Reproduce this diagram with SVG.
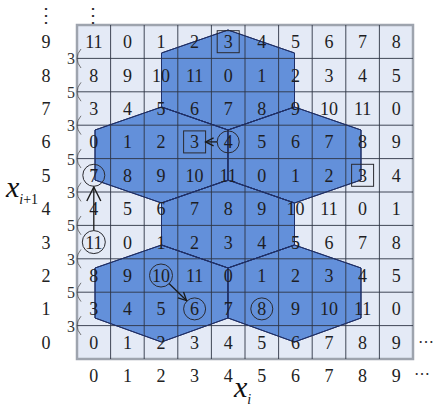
<svg xmlns="http://www.w3.org/2000/svg" width="440" height="410" viewBox="0 0 440 410">
<style>
text{font-family:"Liberation Serif","Times New Roman","DejaVu Serif",serif}
.num{font-size:18px;fill:#1e1e24;text-anchor:middle}
.lab{font-size:18px;fill:#222;text-anchor:middle}
.step{font-size:16px;fill:#333;text-anchor:middle}
.ax{font-style:italic;fill:#111}
.hex{fill:#6390da;stroke:#1f2f66;stroke-width:1}
.grid{stroke:#2e3444;stroke-width:0.9;fill:none}
.br{fill:none;stroke:#555;stroke-width:0.8}
.mk{fill:none;stroke:#2a2a30;stroke-width:1}
.dot{fill:#333}
.arr{stroke:#1a1a1a;stroke-width:1.3;fill:none}
</style>
<defs>
<marker id="headS" markerUnits="userSpaceOnUse" markerWidth="12" markerHeight="12" refX="9" refY="5" orient="auto">
<path d="M1,1 L9,5 L1,9" fill="none" stroke="#1a1a1a" stroke-width="1.3"/>
</marker>
<marker id="headL" markerUnits="userSpaceOnUse" markerWidth="18" markerHeight="18" refX="15" refY="8" orient="auto">
<path d="M1,1 L15,8 L1,15" fill="none" stroke="#1a1a1a" stroke-width="1.4"/>
</marker>
</defs>
<rect width="440" height="410" fill="#fff"/>
<g id="board">
<rect x="77" y="25" width="336" height="334" fill="#e4eaf6" stroke="#9ea4ae" stroke-width="2.5"/>
</g>
<g id="hexagons">
<polygon id="hexA" class="hex" points="228,30 294.5,53 294.5,107 228,130 161.5,107 161.5,53"/>
<polygon id="hexBL" class="hex" points="161.5,107 228,130 228,180 161.5,203 95,180 95,130"/>
<polygon id="hexBR" class="hex" points="294.5,107 361,130 361,180 294.5,203 228,180 228,130"/>
<polygon id="hexC" class="hex" points="228,180 294.5,203 294.5,245 228,268 161.5,245 161.5,203"/>
<polygon id="hexDL" class="hex" points="161.5,245 228,268 228,318 161.5,342 95,318 95,268"/>
<polygon id="hexDR" class="hex" points="294.5,245 361,268 361,318 294.5,342 228,318 228,268"/>
</g>
<g id="gridlines" class="grid">
<path d="M110.6,25V359M144.2,25V359M177.8,25V359M211.4,25V359M245,25V359M278.6,25V359M312.2,25V359M345.8,25V359M379.4,25V359"/>
<path d="M77,58.4H413M77,91.8H413M77,125.2H413M77,158.6H413M77,192H413M77,225.4H413M77,258.8H413M77,292.2H413M77,325.6H413"/>
</g>
<g id="hexedges" fill="none" stroke="#1f2f66" stroke-width="1">
<polygon points="228,30 294.5,53 294.5,107 228,130 161.5,107 161.5,53"/>
<polygon points="161.5,107 228,130 228,180 161.5,203 95,180 95,130"/>
<polygon points="294.5,107 361,130 361,180 294.5,203 228,180 228,130"/>
<polygon points="228,180 294.5,203 294.5,245 228,268 161.5,245 161.5,203"/>
<polygon points="161.5,245 228,268 228,318 161.5,342 95,318 95,268"/>
<polygon points="294.5,245 361,268 361,318 294.5,342 228,318 228,268"/>
</g>
<g id="cells" class="num">
<text y="48.2"><tspan x="93.8">11</tspan><tspan x="127.4">0</tspan><tspan x="161">1</tspan><tspan x="194.6">2</tspan><tspan x="228.2">3</tspan><tspan x="261.8">4</tspan><tspan x="295.4">5</tspan><tspan x="329">6</tspan><tspan x="362.6">7</tspan><tspan x="396.2">8</tspan></text>
<text y="81.6"><tspan x="93.8">8</tspan><tspan x="127.4">9</tspan><tspan x="161">10</tspan><tspan x="194.6">11</tspan><tspan x="228.2">0</tspan><tspan x="261.8">1</tspan><tspan x="295.4">2</tspan><tspan x="329">3</tspan><tspan x="362.6">4</tspan><tspan x="396.2">5</tspan></text>
<text y="115"><tspan x="93.8">3</tspan><tspan x="127.4">4</tspan><tspan x="161">5</tspan><tspan x="194.6">6</tspan><tspan x="228.2">7</tspan><tspan x="261.8">8</tspan><tspan x="295.4">9</tspan><tspan x="329">10</tspan><tspan x="362.6">11</tspan><tspan x="396.2">0</tspan></text>
<text y="148.4"><tspan x="93.8">0</tspan><tspan x="127.4">1</tspan><tspan x="161">2</tspan><tspan x="194.6">3</tspan><tspan x="228.2">4</tspan><tspan x="261.8">5</tspan><tspan x="295.4">6</tspan><tspan x="329">7</tspan><tspan x="362.6">8</tspan><tspan x="396.2">9</tspan></text>
<text y="181.8"><tspan x="93.8">7</tspan><tspan x="127.4">8</tspan><tspan x="161">9</tspan><tspan x="194.6">10</tspan><tspan x="228.2">11</tspan><tspan x="261.8">0</tspan><tspan x="295.4">1</tspan><tspan x="329">2</tspan><tspan x="362.6">3</tspan><tspan x="396.2">4</tspan></text>
<text y="215.2"><tspan x="93.8">4</tspan><tspan x="127.4">5</tspan><tspan x="161">6</tspan><tspan x="194.6">7</tspan><tspan x="228.2">8</tspan><tspan x="261.8">9</tspan><tspan x="295.4">10</tspan><tspan x="329">11</tspan><tspan x="362.6">0</tspan><tspan x="396.2">1</tspan></text>
<text y="248.6"><tspan x="93.8">11</tspan><tspan x="127.4">0</tspan><tspan x="161">1</tspan><tspan x="194.6">2</tspan><tspan x="228.2">3</tspan><tspan x="261.8">4</tspan><tspan x="295.4">5</tspan><tspan x="329">6</tspan><tspan x="362.6">7</tspan><tspan x="396.2">8</tspan></text>
<text y="282"><tspan x="93.8">8</tspan><tspan x="127.4">9</tspan><tspan x="161">10</tspan><tspan x="194.6">11</tspan><tspan x="228.2">0</tspan><tspan x="261.8">1</tspan><tspan x="295.4">2</tspan><tspan x="329">3</tspan><tspan x="362.6">4</tspan><tspan x="396.2">5</tspan></text>
<text y="315.4"><tspan x="93.8">3</tspan><tspan x="127.4">4</tspan><tspan x="161">5</tspan><tspan x="194.6">6</tspan><tspan x="228.2">7</tspan><tspan x="261.8">8</tspan><tspan x="295.4">9</tspan><tspan x="329">10</tspan><tspan x="362.6">11</tspan><tspan x="396.2">0</tspan></text>
<text y="348.8"><tspan x="93.8">0</tspan><tspan x="127.4">1</tspan><tspan x="161">2</tspan><tspan x="194.6">3</tspan><tspan x="228.2">4</tspan><tspan x="261.8">5</tspan><tspan x="295.4">6</tspan><tspan x="329">7</tspan><tspan x="362.6">8</tspan><tspan x="396.2">9</tspan></text>
</g>
<g id="marks" class="mk">
<rect x="217.2" y="30.7" width="22" height="22"/>
<rect x="183.6" y="130.9" width="22" height="22"/>
<rect x="351.6" y="164.3" width="22" height="22"/>
<circle cx="228.2" cy="141.9" r="11"/>
<circle cx="93.8" cy="175.3" r="11"/>
<circle cx="93.8" cy="242.1" r="11.5"/>
<circle cx="161" cy="275.5" r="11.5"/>
<circle cx="194.6" cy="308.9" r="11"/>
<circle cx="261.8" cy="308.9" r="11"/>
</g>
<g id="connectors" class="arr">
<line x1="217" y1="141.9" x2="205.6" y2="141.9" marker-end="url(#headS)"/>
<line x1="93.8" y1="230.6" x2="93.8" y2="187" marker-end="url(#headL)"/>
<line x1="169" y1="283.5" x2="186.5" y2="300.5" marker-end="url(#headS)"/>
</g>
<g id="steps">
<g class="step">
<text x="71" y="64.4">3</text><text x="71" y="97.8">5</text><text x="71" y="131.2">3</text><text x="71" y="164.6">5</text><text x="71" y="198">3</text><text x="71" y="231.4">5</text><text x="71" y="264.8">3</text><text x="71" y="298.2">5</text><text x="71" y="331.6">3</text>
</g>
<path class="br" d="M81,49 Q73,58.4 81,68M81,82.4 Q73,91.8 81,101.2M81,115.8 Q73,125.2 81,134.6M81,149.2 Q73,158.6 81,168M81,182.6 Q73,192 81,201.4M81,216 Q73,225.4 81,234.8M81,249.4 Q73,258.8 81,268.2M81,282.8 Q73,292.2 81,301.6M81,316.2 Q73,325.6 81,335"/>
</g>
<g id="axes">
<g class="lab">
<text x="46" y="48.2">9</text><text x="46" y="81.6">8</text><text x="46" y="115">7</text><text x="46" y="148.4">6</text><text x="46" y="181.8">5</text><text x="46" y="215.2">4</text><text x="46" y="248.6">3</text><text x="46" y="282">2</text><text x="46" y="315.4">1</text><text x="46" y="348.8">0</text>
<text y="382"><tspan x="93.8">0</tspan><tspan x="127.4">1</tspan><tspan x="161">2</tspan><tspan x="194.6">3</tspan><tspan x="228.2">4</tspan><tspan x="261.8">5</tspan><tspan x="295.4">6</tspan><tspan x="329">7</tspan><tspan x="362.6">8</tspan><tspan x="396.2">9</tspan></text>
</g>
<text class="ax" x="6" y="197" font-size="30">x<tspan font-size="14" dy="7">i</tspan><tspan font-size="14" font-style="normal">+1</tspan></text>
<text class="ax" x="234" y="397" font-size="30">x<tspan font-size="14" dy="7">i</tspan></text>
<text class="dot" x="46" y="22" font-size="20" text-anchor="middle">⋮</text>
<text class="dot" x="93" y="22" font-size="20" text-anchor="middle">⋮</text>
<text class="dot" x="418" y="347" font-size="16">⋯</text>
<text class="dot" x="414" y="379" font-size="16">⋯</text>
</g>
</svg>
